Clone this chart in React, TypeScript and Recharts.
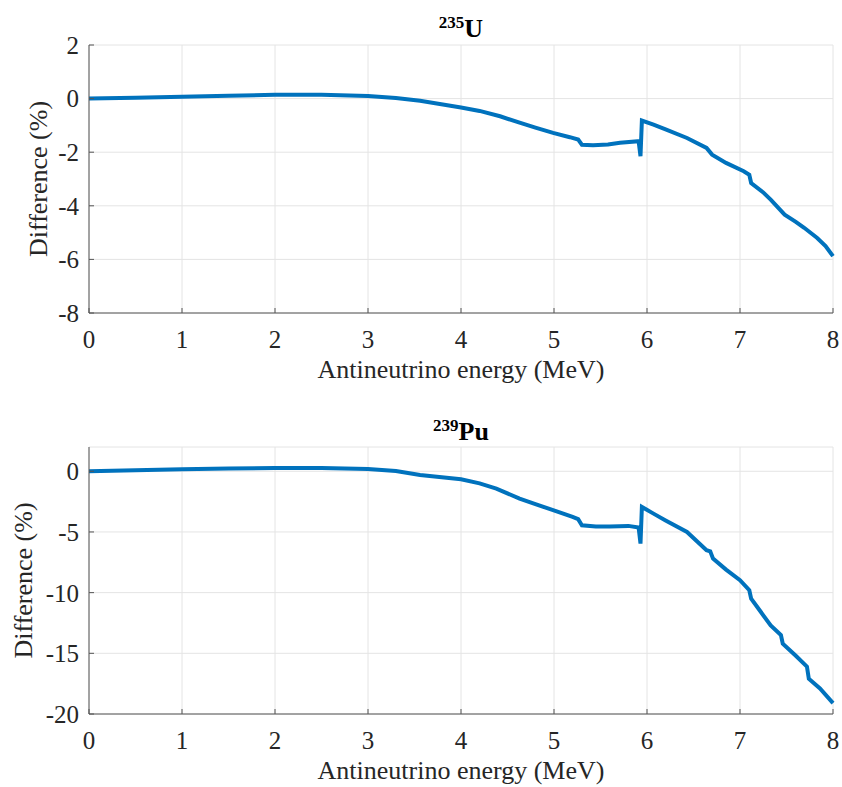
import { LineChart, Line, XAxis, YAxis, CartesianGrid, Label } from "recharts";

const energyTicks = [0, 1, 2, 3, 4, 5, 6, 7, 8];
const uTicks = [-8, -6, -4, -2, 0, 2];
const puTicks = [-20, -15, -10, -5, 0];

// 235U difference (%) vs antineutrino energy (MeV)
const uEnergy = [
  0, 0.5, 1, 1.5, 2, 2.5, 3, 3.3, 3.56, 4, 4.2, 4.42, 4.63, 4.8, 4.99, 5.17,
  5.26, 5.3, 5.42, 5.58, 5.71, 5.91, 5.93, 5.945, 6.07, 6.2, 6.43, 6.64, 6.7,
  6.85, 7.04, 7.1, 7.12, 7.25, 7.33, 7.48, 7.6, 7.69, 7.83, 7.92, 8,
];
const uDiff = [
  0, 0.03, 0.07, 0.11, 0.14, 0.14, 0.1, 0.02, -0.08, -0.33, -0.46, -0.66,
  -0.9, -1.08, -1.28, -1.44, -1.53, -1.72, -1.74, -1.71, -1.65, -1.59, -2.15,
  -0.82, -0.97, -1.15, -1.47, -1.84, -2.09, -2.4, -2.71, -2.84, -3.15, -3.5,
  -3.77, -4.33, -4.6, -4.82, -5.2, -5.5, -5.88,
];

// 239Pu difference (%) vs antineutrino energy (MeV)
const puEnergy = [
  0, 0.5, 1, 1.5, 2, 2.5, 3, 3.3, 3.56, 4, 4.2, 4.38, 4.63, 4.8, 4.99, 5.2,
  5.26, 5.3, 5.45, 5.6, 5.8, 5.91, 5.93, 5.945, 6.07, 6.2, 6.43, 6.64, 6.68,
  6.71, 6.85, 7, 7.1, 7.12, 7.33, 7.44, 7.46, 7.6, 7.72, 7.74, 7.86, 8,
];
const puDiff = [
  0, 0.08, 0.16, 0.23, 0.27, 0.27, 0.19, 0.02, -0.3, -0.66, -1.0, -1.43, -2.25,
  -2.7, -3.21, -3.76, -3.95, -4.45, -4.55, -4.55, -4.5, -4.64, -5.96, -2.94,
  -3.49, -4.05, -5.0, -6.5, -6.6, -7.2, -8.1, -8.98, -9.8, -10.5, -12.7,
  -13.5, -14.2, -15.2, -16.1, -17.1, -17.9, -19.1,
];

const font = '"Liberation Serif", "Times New Roman", serif';
const axisColor = "#555";
const textColor = "#262626";

const serif = { fontFamily: font };

// MATLAB style tick text, Times-like
function XTick(props: any) {
  const { x, y, payload } = props;
  return (
    <text
      x={x}
      y={y}
      dy="0.71em"
      textAnchor="middle"
      fontSize={25}
      fill={textColor}
      fontFamily={font}
      style={serif}
    >
      {payload.value}
    </text>
  );
}

function YTick(props: any) {
  const { x, y, payload } = props;
  return (
    <text
      x={x}
      y={y}
      dy="0.355em"
      textAnchor="end"
      fontSize={25}
      fill={textColor}
      fontFamily={font}
      style={serif}
    >
      {payload.value}
    </text>
  );
}

type PanelProps = {
  energy: number[];
  diff: number[];
  domain: [number, number];
  ticks: number[];
  top: number;
  height: number;
  plotTop: number;
  plotBottom: number;
  yLabelDx: number;
};

function DiffPanel({
  energy,
  diff,
  domain,
  ticks,
  top,
  height,
  plotTop,
  plotBottom,
  yLabelDx,
}: PanelProps) {
  const data = energy.map((e, i) => ({ energy: e, diff: diff[i] }));
  return (
    <div style={{ position: "absolute", left: 0, top }}>
      <LineChart
        width={842}
        height={height}
        data={data}
        margin={{ top: plotTop, right: 9, bottom: 0, left: 0 }}
      >
        <CartesianGrid stroke="#e4e4e4" />
        <XAxis
          dataKey="energy"
          type="number"
          domain={[0, 8]}
          ticks={energyTicks}
          interval={0}
          height={height - plotBottom}
          stroke={axisColor}
          tickSize={-5}
          tickMargin={22}
          tick={XTick}
        >
          <Label
            position="insideTop"
            content={(p: any) => {
              const vb = p.viewBox;
              return (
                <text
                  x={vb.x + vb.width / 2}
                  y={vb.y + 47}
                  dy="0.71em"
                  textAnchor="middle"
                  fontSize={26}
                  fill={textColor}
                  fontFamily={font}
                  style={serif}
                >
                  Antineutrino energy (MeV)
                </text>
              );
            }}
          />
        </XAxis>
        <XAxis
          xAxisId="top"
          orientation="top"
          dataKey="energy"
          type="number"
          domain={[0, 8]}
          ticks={energyTicks}
          interval={0}
          height={0}
          stroke={axisColor}
          tickSize={-5}
          tick={false}
        />
        <YAxis
          type="number"
          domain={domain}
          ticks={ticks}
          interval={0}
          width={89}
          stroke={axisColor}
          tickSize={-5}
          tickMargin={15}
          tick={YTick}
        >
          <Label
            position="center"
            content={(p: any) => {
              const vb = p.viewBox;
              const cx = vb.x + vb.width / 2 + yLabelDx;
              const cy = vb.y + vb.height / 2;
              return (
                <text
                  x={cx}
                  y={cy}
                  dy="0.355em"
                  textAnchor="middle"
                  transform={`rotate(-90, ${cx}, ${cy})`}
                  fontSize={26}
                  fill={textColor}
                  fontFamily={font}
                  style={serif}
                >
                  Difference (%)
                </text>
              );
            }}
          />
        </YAxis>
        <YAxis
          yAxisId="right"
          orientation="right"
          type="number"
          domain={domain}
          ticks={ticks}
          interval={0}
          width={0}
          stroke={axisColor}
          tickSize={-5}
          tick={false}
        />
        <Line
          type="linear"
          dataKey="diff"
          stroke="#0072BD"
          strokeWidth={4}
          dot={false}
          isAnimationActive={false}
        />
      </LineChart>
    </div>
  );
}

export default function App() {
  return (
    <div
      style={{
        position: "absolute",
        left: 0,
        top: 0,
        width: 842,
        height: 787,
        background: "#fff",
        overflow: "hidden",
      }}
    >
      <DiffPanel
        energy={uEnergy}
        diff={uDiff}
        domain={[-8, 2]}
        ticks={uTicks}
        top={0}
        height={395}
        plotTop={45}
        plotBottom={313}
        yLabelDx={-6.5}
      />
      <DiffPanel
        energy={puEnergy}
        diff={puDiff}
        domain={[-20, 2]}
        ticks={puTicks}
        top={400}
        height={387}
        plotTop={47}
        plotBottom={314}
        yLabelDx={-21.5}
      />
      <svg
        width={842}
        height={787}
        style={{ position: "absolute", left: 0, top: 0, pointerEvents: "none" }}
      >
        <text
          x={461}
          y={37}
          textAnchor="middle"
          fontFamily={font}
          fontWeight="bold"
          fill="#000"
        >
          <tspan fontSize={17} dy={-9}>
            235
          </tspan>
          <tspan fontSize={26} dy={9}>
            U
          </tspan>
        </text>
        <text
          x={461}
          y={440}
          textAnchor="middle"
          fontFamily={font}
          fontWeight="bold"
          fill="#000"
        >
          <tspan fontSize={17} dy={-9}>
            239
          </tspan>
          <tspan fontSize={26} dy={9}>
            Pu
          </tspan>
        </text>
      </svg>
    </div>
  );
}
